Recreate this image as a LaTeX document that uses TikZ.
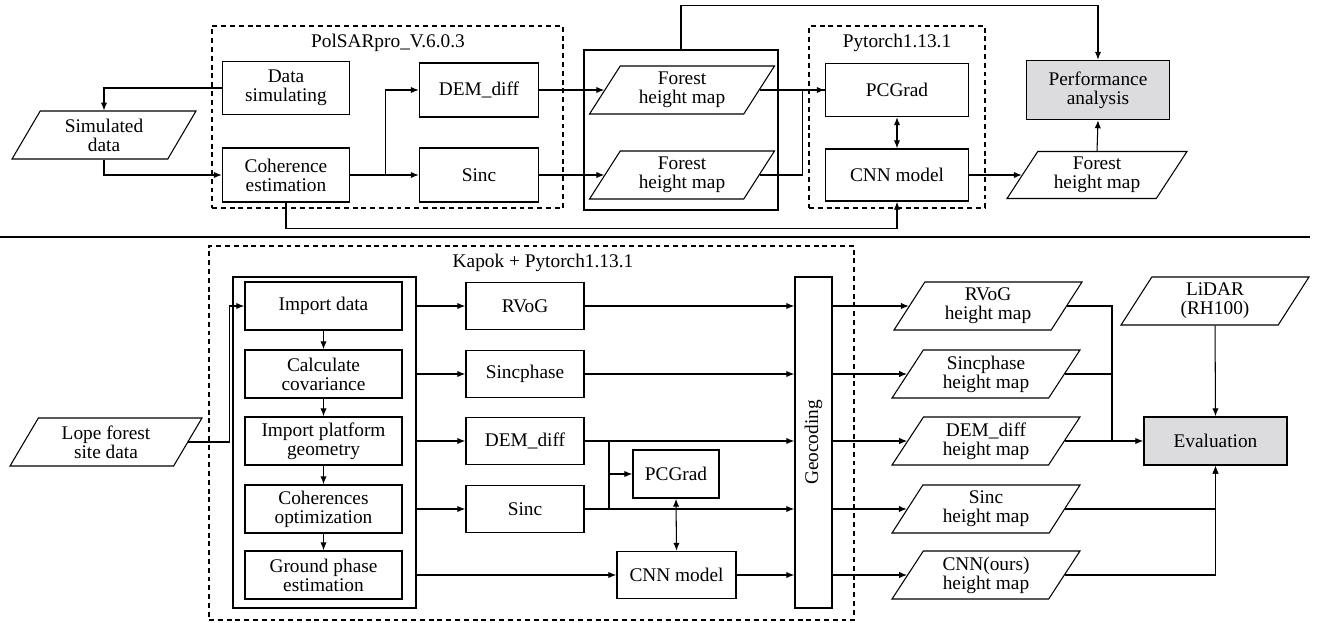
\documentclass[tikz,border=0pt]{standalone}
\usepackage{fontspec}
\setmainfont{Liberation Serif}
\usetikzlibrary{arrows.meta,shapes.geometric}
\definecolor{evalgrey}{RGB}{220,220,222}

\tikzset{
  every node/.style={font=\fontsize{11}{10.8}\selectfont},
  proc/.style={draw, line width=0.9pt, align=center, inner sep=1pt},
  data/.style={trapezium, trapezium left angle=52, trapezium right angle=128,
    trapezium stretches body, draw, line width=0.6pt, align=center,
    inner xsep=0pt, inner ysep=1pt, minimum height=0.96cm},
  grp/.style={draw, dashed, dash pattern=on 2.8pt off 2.2pt, line width=0.7pt},
  frame/.style={draw, line width=0.9pt},
  flow/.style={->, line width=0.6pt},
  >={Latex[length=4.5pt,width=3.6pt]}
}

\begin{document}
\begin{tikzpicture}[x=0.02cm, y=-0.02cm]
\useasboundingbox (0,0) rectangle (1335,622);

% upper part
\node[grp, minimum width=7.02cm, minimum height=3.64cm] (polsar) at (387.5,117) {};
\node (polsarlbl) at (388,43) {PolSARpro\_V.6.0.3};
\node[frame, minimum width=3.88cm, minimum height=3.2cm] (fhbox) at (681,130) {};
\node[grp, minimum width=3.52cm, minimum height=3.64cm] (pyt) at (897,117) {};
\node (pytlbl) at (897,43) {Pytorch1.13.1};

\node[proc, minimum width=2.54cm, minimum height=1.06cm] (dsim) at (286,88) {Data\\simulating};
\node[proc, minimum width=2.54cm, minimum height=1.08cm] (cohest) at (286,175) {Coherence\\estimation};
\node[proc, minimum width=2.38cm, minimum height=1.08cm] (demdiff) at (479,90) {DEM\_diff};
\node[proc, minimum width=2.38cm, minimum height=1.08cm] (sinc) at (479,175) {Sinc};
\node[data, minimum width=3.68cm] (simdata) at (104,135) {Simulated\\data};
\node[data, minimum width=3.7cm] (fhm1) at (682,90) {Forest\\height map};
\node[data, minimum width=3.7cm] (fhm2) at (682,175) {Forest\\height map};
\node[proc, minimum width=2.86cm, minimum height=1.06cm] (pcgrad) at (897,90) {PCGrad};
\node[proc, minimum width=2.86cm, minimum height=1.04cm] (cnn) at (897,175) {CNN model};
\node[data, minimum width=3.6cm, minimum height=0.94cm] (fhm3) at (1097,175) {Forest\\height map};
\node[proc, fill=evalgrey, minimum width=2.86cm, minimum height=1.18cm] (perf) at (1098,90) {Performance\\analysis};

\draw[flow] (dsim.west) -| (simdata.north);
\draw[flow] (simdata.south) |- (cohest.west);
\draw[flow] (cohest.east) -- ++(35,0) |- (demdiff.west);
\draw[flow] (cohest.east) -- (sinc.west);
\draw[flow] (demdiff.east) -- (fhm1.left side);
\draw[flow] (sinc.east) -- (fhm2.left side);
\draw[flow] (fhm1.right side) -- (pcgrad.west);
\draw[line width=0.6pt] (fhm2.right side) -- ++(43,0) |- (pcgrad.west);
\draw[flow] (fhbox.north) -- ++(0,-44) -| (perf.north);
\draw[flow, <->] (pcgrad.south) -- (cnn.north);
\draw[flow] (cohest.south) -- ++(0,26) -| (cnn.south);
\draw[flow] (cnn.east) -- (fhm3.left side);
\draw[flow] (fhm3.north) -- (perf.south);

\draw[line width=0.7pt] (0,237) -- (1310,237);

% lower part
\node[grp, minimum width=12.9cm, minimum height=7.48cm] (kapok) at (531.5,433) {};
\node (kapoklbl) at (543,263) {Kapok + Pytorch1.13.1};
\node[frame, minimum width=3.66cm, minimum height=6.62cm] (steps) at (324.5,442.5) {};

\node[proc, minimum width=3.14cm, minimum height=0.96cm] (imp) at (323.5,306) {Import data};
\node[proc, minimum width=3.14cm, minimum height=0.96cm] (cov) at (323.5,374) {Calculate\\covariance};
\node[proc, minimum width=3.14cm, minimum height=0.96cm] (plat) at (323.5,441) {Import platform\\geometry};
\node[proc, minimum width=3.14cm, minimum height=0.96cm] (cohopt) at (323.5,509) {Coherences\\optimization};
\node[proc, minimum width=3.14cm, minimum height=0.96cm] (gpe) at (323.5,575) {Ground phase\\estimation};
\node[data, minimum width=3.84cm] (lope) at (106,442) {Lope forest\\site data};

\node[proc, minimum width=2.36cm, minimum height=0.94cm] (rvog) at (525,306) {RVoG};
\node[proc, minimum width=2.36cm, minimum height=0.94cm] (sincph) at (525,374) {Sincphase};
\node[proc, minimum width=2.36cm, minimum height=0.94cm] (dem2) at (525,441) {DEM\_diff};
\node[proc, minimum width=2.36cm, minimum height=0.94cm] (sinc2) at (525,509) {Sinc};
\node[proc, minimum width=1.72cm, minimum height=0.96cm] (pc2) at (676,474) {PCGrad};
\node[proc, minimum width=2.38cm, minimum height=0.94cm] (cnn2) at (676.5,575) {CNN model};
\node[proc, minimum width=0.74cm, minimum height=6.62cm] (geo) at (813.5,442.5) {\rotatebox{90}{Geocoding}};

\node[data, minimum width=3.76cm] (hm1) at (988,306) {RVoG\\height map};
\node[data, minimum width=3.76cm] (hm2) at (986,374) {Sincphase\\height map};
\node[data, minimum width=3.76cm] (hm3) at (986,441) {DEM\_diff\\height map};
\node[data, minimum width=3.76cm] (hm4) at (986,509) {Sinc\\height map};
\node[data, minimum width=3.76cm] (hm5) at (986,575) {CNN(ours)\\height map};
\node[data, minimum width=3.76cm] (lidar) at (1215,301) {LiDAR\\(RH100)};
\node[proc, fill=evalgrey, minimum width=2.86cm, minimum height=0.96cm] (eval) at (1215.5,441) {Evaluation};

\draw[flow] (lope.right side) -- ++(41,0) |- (imp.west);
\draw[flow] (imp) -- (cov);
\draw[flow] (cov) -- (plat);
\draw[flow] (plat) -- (cohopt);
\draw[flow] (cohopt) -- (gpe);

\draw[flow] (imp.east -| steps.east) -- (rvog.west);
\draw[flow] (cov.east -| steps.east) -- (sincph.west);
\draw[flow] (plat.east -| steps.east) -- (dem2.west);
\draw[flow] (cohopt.east -| steps.east) -- (sinc2.west);
\draw[flow] (gpe.east -| steps.east) -- (cnn2.west);

\coordinate (br) at (609,474);
\draw[flow] (rvog.east) -- (rvog.east -| geo.west);
\draw[flow] (sincph.east) -- (sincph.east -| geo.west);
\draw[flow] (dem2.east) -- (dem2.east -| geo.west);
\draw[flow] (sinc2.east) -- (sinc2.east -| geo.west);
\draw[line width=0.6pt] (dem2.east -| br) -- (sinc2.east -| br);
\draw[flow] (br) -- (pc2.west);
\draw[flow, <->] (pc2.south) -- (cnn2.north);
\draw[flow] (cnn2.east) -- (cnn2.east -| geo.west);

\draw[flow] (hm1.left side -| geo.east) -- (hm1.left side);
\draw[flow] (hm2.left side -| geo.east) -- (hm2.left side);
\draw[flow] (hm3.left side -| geo.east) -- (hm3.left side);
\draw[flow] (hm4.left side -| geo.east) -- (hm4.left side);
\draw[flow] (hm5.left side -| geo.east) -- (hm5.left side);

\coordinate (jn) at (1112,441);
\draw[line width=0.6pt] (hm1.right side) -| (jn);
\draw[line width=0.6pt] (hm2.right side) -| (jn);
\draw[flow] (hm3.right side) -- (eval.west);
\draw[flow] (hm4.right side) -| (eval.south);
\draw[flow] (hm5.right side) -| (eval.south);
\draw[flow] (lidar.south) -- (eval.north);
\end{tikzpicture}
\end{document}
